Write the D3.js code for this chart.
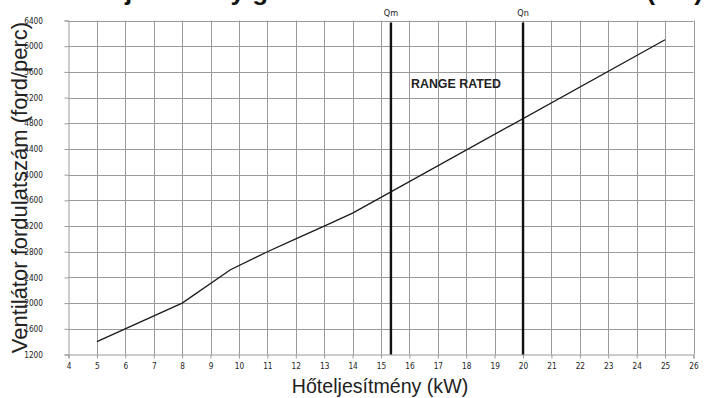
<!DOCTYPE html>
<html>
<head>
<meta charset="utf-8">
<script src="https://cdn.jsdelivr.net/npm/d3@7"></script>
<style>
  html, body { margin: 0; padding: 0; background: #fff; }
  svg { display: block; }
</style>
</head>
<body>
<svg id="chart" width="707" height="398"></svg>
<script>
// ---- data ----
const powerKW  = [5, 8, 9.7, 11, 12, 13, 14, 25];
const speedRPM = [1400, 2000, 2520, 2800, 3000, 3200, 3400, 6100];
const xTicks = [4,5,6,7,8,9,10,11,12,13,14,15,16,17,18,19,20,21,22,23,24,25,26];
const yTicks = [1200,1600,2000,2400,2800,3200,3600,4000,4400,4800,5200,5600,6000,6400];
const markerNames = ["Qm", "Qn"];
const markerValues = [15.35, 20];
const titleText = "Hőteljesítmény görbe – ventilátor fordulatszám (kW)";
const xTitle = "Hőteljesítmény (kW)";
const yTitle = "Ventilátor fordulatszám (ford/perc)";
const rangeLabel = "RANGE RATED";

// ---- layout ----
const svg = d3.select("#chart");
const mLeft = 68.5, mRight = 693.5, mTop = 20.5, mBottom = 354.5;
const x = d3.scaleLinear().domain([4, 26]).range([mLeft, mRight]);
const y = d3.scaleLinear().domain([1200, 6400]).range([mBottom, mTop]);
const gridColor = "#9a9a9a";
const tickFont = "'Liberation Sans Narrow', 'DejaVu Sans Condensed', 'Liberation Sans', sans-serif";
const arial = "'Liberation Sans', Arial, sans-serif";

// title (cut off at the top edge, as in the reference: only descenders show)
svg.append("text")
  .attr("x", 60).attr("y", 0)
  .attr("font-family", arial)
  .attr("font-weight", "bold")
  .attr("font-size", 26)
  .attr("fill", "#111")
  .text(titleText);

// grid
const g = svg.append("g");
g.selectAll("line.vg").data(xTicks.slice(1)).join("line")
  .attr("x1", d => Math.round(x(d)) + 0.5).attr("x2", d => Math.round(x(d)) + 0.5)
  .attr("y1", mTop).attr("y2", mBottom)
  .attr("stroke", gridColor).attr("stroke-width", 1);
g.selectAll("line.hg").data(yTicks.slice(1)).join("line")
  .attr("x1", mLeft).attr("x2", mRight)
  .attr("y1", d => Math.round(y(d)) + 0.5).attr("y2", d => Math.round(y(d)) + 0.5)
  .attr("stroke", gridColor).attr("stroke-width", 1);

// axes
const xAxis = d3.axisBottom(x).tickValues(xTicks).tickSize(4).tickPadding(5).tickFormat(d3.format("d"));
const yAxis = d3.axisLeft(y).tickValues(yTicks).tickSize(4).tickPadding(21.5).tickFormat(d3.format("d"));
const xa = svg.append("g").attr("transform", `translate(0,${mBottom})`).call(xAxis);
const ya = svg.append("g").attr("transform", `translate(${mLeft},0)`).call(yAxis);
[xa, ya].forEach(a => {
  a.select(".domain").attr("stroke", gridColor);
  a.selectAll(".tick line").attr("stroke", gridColor);
  a.selectAll(".tick text").attr("font-family", tickFont).attr("font-size", 8.2).attr("fill", "#222");
});

// series line
svg.append("path")
  .datum(powerKW.map((p, i) => [p, speedRPM[i]]))
  .attr("fill", "none").attr("stroke", "#1a1a1a").attr("stroke-width", 1.3)
  .attr("d", d3.line().x(d => x(d[0])).y(d => y(d[1])));

// marker vertical lines
markerValues.forEach((v, i) => {
  svg.append("line")
    .attr("x1", x(v)).attr("x2", x(v))
    .attr("y1", mTop + 2).attr("y2", mBottom)
    .attr("stroke", "#111").attr("stroke-width", 2.4);
  svg.append("text")
    .attr("x", x(v)).attr("y", 16)
    .attr("text-anchor", "middle")
    .attr("font-family", tickFont).attr("font-size", 9).attr("fill", "#222")
    .text(markerNames[i]);
});

// range label
svg.append("text")
  .attr("x", 411).attr("y", 88)
  .attr("font-family", arial)
  .attr("font-weight", "bold").attr("font-size", 12.4).attr("fill", "#222")
  .text(rangeLabel);

// axis titles
svg.append("text")
  .attr("x", 380).attr("y", 393)
  .attr("text-anchor", "middle")
  .attr("font-family", arial)
  .attr("font-size", 19.6).attr("fill", "#222")
  .text(xTitle);
svg.append("text")
  .attr("transform", `translate(26.5,${(mTop + mBottom) / 2}) rotate(-90)`)
  .attr("text-anchor", "middle")
  .attr("font-family", arial)
  .attr("font-size", 22).attr("fill", "#222")
  .text(yTitle);
</script>
</body>
</html>
